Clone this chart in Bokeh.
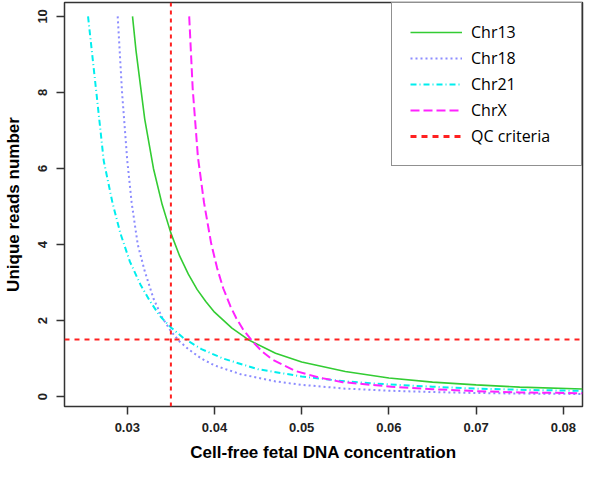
from bokeh.plotting import figure
from bokeh.models import Span, Legend, LegendItem, FixedTicker, Range1d
from bokeh.embed import file_html
from bokeh.resources import INLINE

# ---- data ----
chr13_x = [0.0306, 0.031, 0.032, 0.033, 0.034, 0.035, 0.036, 0.037, 0.038, 0.039, 0.040, 0.042, 0.044,
           0.047, 0.050, 0.055, 0.060, 0.065, 0.070, 0.075, 0.0822]
chr13_y = [10.0, 9.1, 7.3, 6.0, 5.05, 4.3, 3.7, 3.22, 2.82, 2.5, 2.22, 1.8, 1.48,
           1.14, 0.91, 0.66, 0.49, 0.38, 0.31, 0.25, 0.20]

chr18_x = [0.0289, 0.0294, 0.0300, 0.0305, 0.0312, 0.0320, 0.0330, 0.0340, 0.0350, 0.0360, 0.0370,
           0.0385, 0.0400, 0.0430, 0.0470, 0.0500, 0.0550, 0.0600, 0.0650, 0.0700, 0.0750, 0.0822]
chr18_y = [10.0, 8.0, 6.2, 5.1, 4.0, 3.3, 2.58, 2.08, 1.72, 1.45, 1.25,
           1.0, 0.82, 0.59, 0.40, 0.31, 0.21, 0.155, 0.12, 0.095, 0.08, 0.07]

chr21_x = [0.0255, 0.0265, 0.0273, 0.0283, 0.0292, 0.0303, 0.0315, 0.0325, 0.0337, 0.0350,
           0.0365, 0.0385, 0.0410, 0.0450, 0.0500, 0.0550, 0.0600, 0.0650, 0.0700, 0.0750, 0.0822]
chr21_y = [10.0, 7.9, 6.2, 5.1, 4.3, 3.55, 2.95, 2.55, 2.13, 1.82,
           1.53, 1.25, 1.0, 0.72, 0.53, 0.40, 0.32, 0.26, 0.21, 0.18, 0.15]

chrx_x = [0.0371, 0.0375, 0.0381, 0.0388, 0.0396, 0.0403, 0.0410, 0.0418, 0.0425, 0.0433, 0.0444,
          0.0455, 0.0466, 0.0492, 0.0520, 0.0547, 0.0603, 0.0650, 0.0700, 0.0750, 0.0822]
chrx_y = [10.0, 8.1, 6.3, 5.1, 4.05, 3.38, 2.85, 2.39, 2.06, 1.76, 1.44,
          1.18, 0.98, 0.68, 0.50, 0.38, 0.26, 0.195, 0.145, 0.11, 0.09]

qc_concentration = 0.035
qc_reads = 1.5

x_ticks = [0.03, 0.04, 0.05, 0.06, 0.07, 0.08]
x_tick_labels = ["0.03", "0.04", "0.05", "0.06", "0.07", "0.08"]
y_ticks = [0, 2, 4, 6, 8, 10]
y_tick_labels = ["0", "2", "4", "6", "8", "10"]

series_names = ["Chr13", "Chr18", "Chr21", "ChrX", "QC criteria"]

# ---- figure ----
p = figure(width=584, height=464, output_backend="svg", toolbar_location=None,
           x_range=Range1d(0.0228, 0.0822), y_range=Range1d(-0.26, 10.365),
           min_border_left=62, min_border_right=2, min_border_top=2, min_border_bottom=54)
p.grid.visible = False
p.outline_line_color = "#333333"
p.outline_line_width = 1.5
p.background_fill_color = "white"
p.border_fill_color = "white"

r13 = p.line(chr13_x, chr13_y, line_color="#33CC33", line_width=1.6)
r18 = p.line(chr18_x, chr18_y, line_color="#8C8CFF", line_width=2, line_dash="2 3")
r21 = p.line(chr21_x, chr21_y, line_color="#00EEEE", line_width=2, line_dash="6 3 1 3")
rx = p.line(chrx_x, chrx_y, line_color="#FF22FF", line_width=2, line_dash="9 4")

vspan = Span(location=qc_concentration, dimension="height", line_color="#FF2020",
             line_width=2, line_dash="4 4")
hspan = Span(location=qc_reads, dimension="width", line_color="#FF2020",
             line_width=2, line_dash="5 5")
p.add_layout(vspan)
p.add_layout(hspan)
# zero-length stand-in so that the QC criteria item gets a legend glyph
rqc = p.line([qc_concentration, qc_concentration], [qc_reads, qc_reads],
             line_color="#FF2020", line_width=3, line_dash="6 5")

for ax in (p.xaxis[0], p.yaxis[0]):
    ax.axis_line_color = None
    ax.major_tick_out = 8
    ax.major_tick_in = 0
    ax.minor_tick_out = 0
    ax.minor_tick_in = 0
    ax.major_tick_line_color = "#333333"
    ax.major_tick_line_width = 1.5
    ax.major_label_text_font = "Liberation Sans"
    ax.major_label_text_font_style = "bold"
    ax.major_label_text_font_size = "13px"
    ax.major_label_text_color = "#222222"
    ax.axis_label_text_font = "Liberation Sans"
    ax.axis_label_text_font_style = "bold"
    ax.axis_label_text_font_size = "17px"
    ax.axis_label_text_color = "black"

p.xaxis.ticker = FixedTicker(ticks=x_ticks)
p.xaxis.major_label_overrides = dict(zip(x_ticks, x_tick_labels))
p.xaxis.axis_label = "Cell-free fetal DNA concentration"
p.xaxis.major_label_standoff = 8
p.xaxis.axis_label_standoff = 8

p.yaxis.ticker = FixedTicker(ticks=y_ticks)
p.yaxis.major_label_overrides = dict(zip(y_ticks, y_tick_labels))
p.yaxis.axis_label = "Unique reads number"
p.yaxis.major_label_orientation = "parallel"
p.yaxis.major_label_standoff = 9
p.yaxis.axis_label_standoff = 13

legend = Legend(items=[
    LegendItem(label=series_names[0], renderers=[r13]),
    LegendItem(label=series_names[1], renderers=[r18]),
    LegendItem(label=series_names[2], renderers=[r21]),
    LegendItem(label=series_names[3], renderers=[rx]),
    LegendItem(label=series_names[4], renderers=[rqc]),
], location="top_right")
legend.margin = 0
legend.padding = 18
legend.spacing = 4
legend.glyph_width = 52
legend.glyph_height = 20
legend.label_height = 20
legend.label_width = 92
legend.label_standoff = 9
legend.label_text_font = "Open Sans"
legend.label_text_font_size = "16px"
legend.label_text_color = "black"
legend.border_line_color = "#222222"
legend.border_line_width = 1.5
legend.background_fill_color = "white"
legend.background_fill_alpha = 1.0
p.add_layout(legend)

open("out.html", "w").write(file_html(p, INLINE))
